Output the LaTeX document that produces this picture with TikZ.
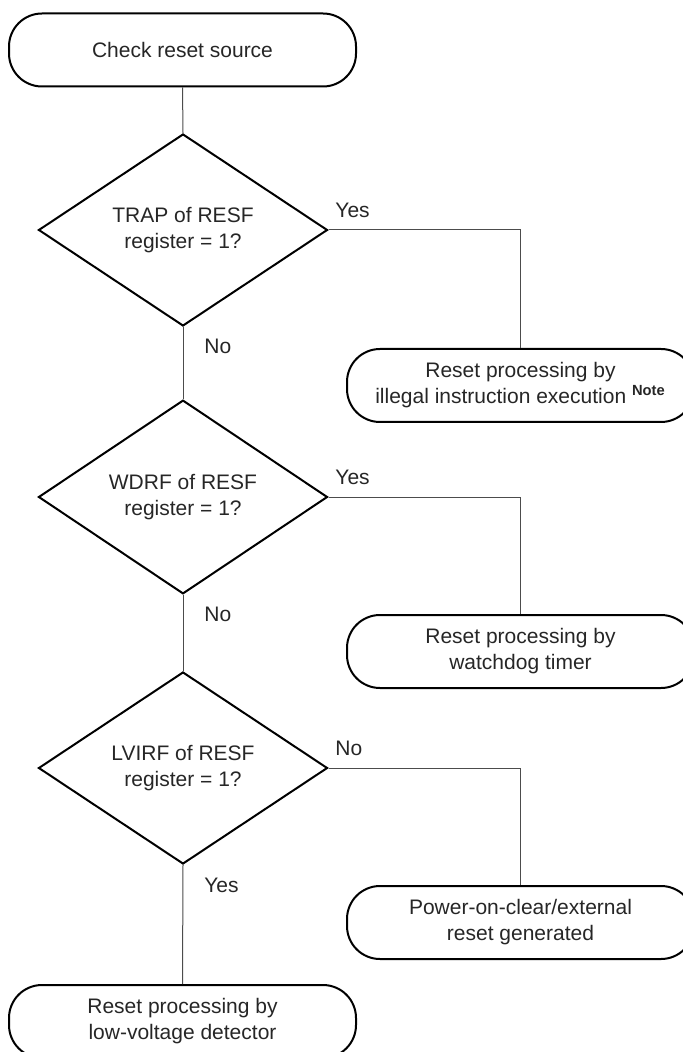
\documentclass[tikz,border=0pt]{standalone}
\usepackage{fontspec}
\setmainfont{Liberation Sans}
\usetikzlibrary{shapes.geometric}
\tikzset{
  term/.style={rectangle, rounded corners=16.5pt, draw, line width=1pt,
    minimum width=173.5pt, minimum height=36.5pt, align=center, inner sep=0pt},
  test/.style={diamond, draw, line width=1pt, minimum width=144.5pt,
    minimum height=96pt, align=center, inner sep=0pt},
  flow/.style={draw=black!70, line width=0.5pt},
  answer/.style={anchor=base west, inner sep=0pt}
}

\begin{document}
\begin{tikzpicture}[x=0.5pt, y=-0.5pt, font=\fontsize{10.5}{13}\selectfont, text=black!85]
      \useasboundingbox (0,0) rectangle (683,1052);

      \node[term] (check) at (182.5,50) {Check reset source};
      \node[test] (trap) at (183,230) {TRAP of RESF\\register = 1?};
      \node[term] (illegal) at (520.5,385.5) {Reset processing by\\illegal instruction execution \textsuperscript{\bfseries Note}};
      \node[test] (wdrf) at (183,497) {WDRF of RESF\\register = 1?};
      \node[term] (wdt) at (520.5,651.5) {Reset processing by\\watchdog timer};
      \node[test] (lvirf) at (183,768) {LVIRF of RESF\\register = 1?};
      \node[term] (poc) at (520.5,922.5) {Power-on-clear/external\\reset generated};
      \node[term] (lvi) at (182.5,1021.5) {Reset processing by\\low-voltage detector};

      \node[answer] (trapyes) at (335,218) {Yes};
      \node[answer] (trapno) at (204,354) {No};
      \node[answer] (wdrfyes) at (335,484) {Yes};
      \node[answer] (wdrfno) at (204,621) {No};
      \node[answer] (lvirfno) at (335,755) {No};
      \node[answer] (lvirfyes) at (204,892) {Yes};

      \draw[flow] (check.south) -- (trap.north);
      \draw[flow] (trap.east) -| (illegal.north);
      \draw[flow] (trap.south) -- (wdrf.north);
      \draw[flow] (wdrf.east) -| (wdt.north);
      \draw[flow] (wdrf.south) -- (lvirf.north);
      \draw[flow] (lvirf.east) -| (poc.north);
      \draw[flow] (lvirf.south) -- (lvi.north);
    \end{tikzpicture}
\end{document}
